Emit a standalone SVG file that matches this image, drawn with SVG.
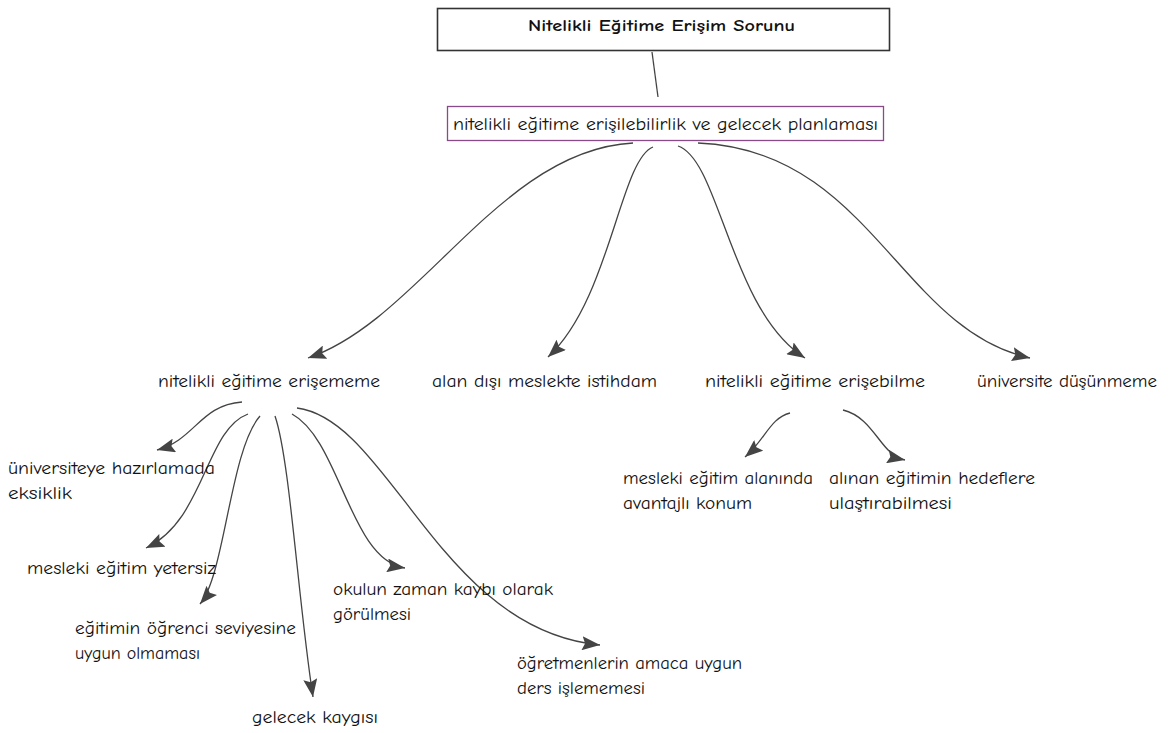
<svg xmlns="http://www.w3.org/2000/svg" width="1169" height="733" viewBox="0 0 1169 733">
<style>
text{font-family:"Comic Sans MS","Comic Neue","Open Sans","Liberation Sans",sans-serif;font-size:18px;fill:#111;}
.title{font-weight:bold;font-size:16px;}
.conn path{fill:none;stroke:#444;stroke-width:1.3;}
.conn path.arr{marker-end:url(#ah);}
</style>
<defs>
<marker id="ah" markerUnits="userSpaceOnUse" markerWidth="20" markerHeight="14" refX="18" refY="7" orient="auto" viewBox="0 0 20 14">
<path d="M0,0 L18,7 L0,14 L3,7 z" fill="#444"/>
</marker>
</defs>
<rect width="1169" height="733" fill="#fff"/>
<g class="conn">
<path d="M652,52 L658,97"/>
<path class="arr" d="M633,143 C500,150 420,320 308,358"/>
<path class="arr" d="M653,147 C620,160 610,300 548,357"/>
<path class="arr" d="M678,146 C720,160 730,310 805,358"/>
<path class="arr" d="M698,143 C870,150 900,330 1030,358"/>
<path class="arr" d="M242,402 C200,405 195,440 157,450"/>
<path class="arr" d="M248,414 C205,430 205,520 146,548"/>
<path class="arr" d="M260,416 C230,450 225,575 200,604"/>
<path class="arr" d="M275,416 C290,460 298,600 313,697"/>
<path class="arr" d="M292,414 C340,440 350,560 405,568"/>
<path class="arr" d="M297,408 C390,420 440,630 600,645"/>
<path class="arr" d="M790,413 C770,418 765,440 745,457"/>
<path class="arr" d="M843,410 C875,418 880,455 905,460"/>
</g>
<g id="n-root">
<rect x="437.5" y="8.5" width="452" height="42" fill="#fff" stroke="#333" stroke-width="1.6"/>
<text class="title" x="528" y="31" textLength="267" lengthAdjust="spacingAndGlyphs">Nitelikli Eğitime Erişim Sorunu</text>
</g>
<g id="n-plan">
<rect x="447.5" y="106.5" width="436" height="34" fill="#fff" stroke="#8a4a8a" stroke-width="1.3"/>
<text x="453" y="130" textLength="425" lengthAdjust="spacingAndGlyphs">nitelikli eğitime erişilebilirlik ve gelecek planlaması</text>
</g>
<g id="n-erisememe"><text x="158" y="387" textLength="222" lengthAdjust="spacingAndGlyphs">nitelikli eğitime erişememe</text></g>
<g id="n-alandisi"><text x="432" y="387" textLength="225" lengthAdjust="spacingAndGlyphs">alan dışı meslekte istihdam</text></g>
<g id="n-erisebilme"><text x="705" y="387" textLength="220" lengthAdjust="spacingAndGlyphs">nitelikli eğitime erişebilme</text></g>
<g id="n-universite"><text x="977" y="387" textLength="180" lengthAdjust="spacingAndGlyphs">üniversite düşünmeme</text></g>
<g id="n-hazirlama">
<text x="8" y="474" textLength="207" lengthAdjust="spacingAndGlyphs">üniversiteye hazırlamada</text>
<text x="8" y="499" textLength="64" lengthAdjust="spacingAndGlyphs">eksiklik</text>
</g>
<g id="n-yetersiz"><text x="27" y="574" textLength="189" lengthAdjust="spacingAndGlyphs">mesleki eğitim yetersiz</text></g>
<g id="n-seviye">
<text x="75" y="634" textLength="221" lengthAdjust="spacingAndGlyphs">eğitimin öğrenci seviyesine</text>
<text x="75" y="659" textLength="125" lengthAdjust="spacingAndGlyphs">uygun olmaması</text>
</g>
<g id="n-kaygi"><text x="252" y="723" textLength="126" lengthAdjust="spacingAndGlyphs">gelecek kaygısı</text></g>
<g id="n-zaman">
<text x="333" y="595" textLength="220" lengthAdjust="spacingAndGlyphs">okulun zaman kaybı olarak</text>
<text x="333" y="620" textLength="78" lengthAdjust="spacingAndGlyphs">görülmesi</text>
</g>
<g id="n-ogretmen">
<text x="517" y="669" textLength="225" lengthAdjust="spacingAndGlyphs">öğretmenlerin amaca uygun</text>
<text x="517" y="694" textLength="128" lengthAdjust="spacingAndGlyphs">ders işlememesi</text>
</g>
<g id="n-avantaj">
<text x="623" y="484" textLength="190" lengthAdjust="spacingAndGlyphs">mesleki eğitim alanında</text>
<text x="623" y="509" textLength="129" lengthAdjust="spacingAndGlyphs">avantajlı konum</text>
</g>
<g id="n-hedef">
<text x="829" y="484" textLength="206" lengthAdjust="spacingAndGlyphs">alınan eğitimin hedeflere</text>
<text x="829" y="509" textLength="123" lengthAdjust="spacingAndGlyphs">ulaştırabilmesi</text>
</g>
</svg>
